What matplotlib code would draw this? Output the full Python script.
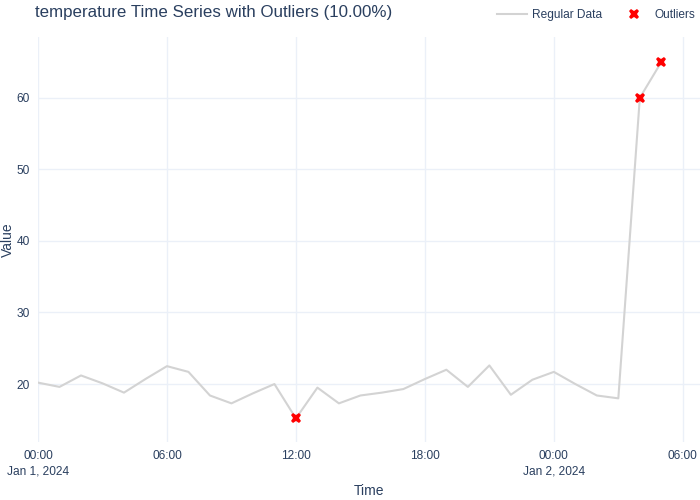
import numpy as np
import pandas as pd
import matplotlib
matplotlib.use("Agg")
from matplotlib import pyplot as plt
import matplotlib.dates as mdates

plt.rcParams['font.family'] = ['Liberation Sans', 'DejaVu Sans']

times  = pd.date_range('2024-01-01 00:00', periods=30, freq='h')
values = [20.2, 19.6, 21.2, 20.1, 18.8, 20.7, 22.5, 21.7, 18.4, 17.3,
          18.7, 20.0, 15.2, 19.5, 17.3, 18.4, 18.8, 19.3, 20.7, 22.0,
          19.6, 22.6, 18.5, 20.6, 21.7, 20.0, 18.4, 18.0, 60.0, 65.0]
outlier_idx = [12, 28, 29]
title = 'temperature Time Series with Outliers (10.00%)'

txt  = '#2a3f5f'
grid = '#ebf0f8'

fig = plt.figure(figsize=(7, 5), dpi=100)
ax  = fig.add_axes([38/700, 58/500, 662/700, 405/500])

ax.plot(times, values, color='#d3d3d3', lw=1.5, label='Regular Data', zorder=2)
ax.plot(times[outlier_idx], [values[i] for i in outlier_idx], ls='none',
        marker='X', ms=7.5, color='red', markeredgewidth=0, label='Outliers', zorder=3)

ax.set_xlim(times[0], times[0] + pd.Timedelta(hours=30.8))
ax.set_ylim(11.9, 68.5)

ax.xaxis.set_major_locator(mdates.HourLocator(byhour=[0, 6, 12, 18]))
def fmt(x, pos):
  d = mdates.num2date(x)
  s = d.strftime('%H:%M')
  if d.hour == 0:
    s += '\n' + d.strftime('%b ') + str(d.day) + d.strftime(', %Y')
  return s
ax.xaxis.set_major_formatter(plt.FuncFormatter(fmt))
ax.set_yticks([20, 30, 40, 50, 60])

for s in ax.spines.values():
  s.set_visible(False)
ax.grid(True, color=grid, lw=1)
ax.set_axisbelow(True)
ax.tick_params(length=0, colors=txt, labelsize=8.6, pad=6)
for lab in ax.get_xticklabels():
  lab.set_linespacing(1.3)

ax.set_xlabel('Time', fontsize=10, color=txt)
ax.xaxis.set_label_coords((369 - 38)/662, -(491 - 442)/405)
ax.xaxis.label.set_va('center')
ax.set_ylabel('Value', fontsize=10, color=txt)
ax.yaxis.set_label_coords(-(38 - 8)/662, (442 - 240)/405)
ax.yaxis.label.set_va('center')

fig.text(35/700, 1 - 13/500, title, fontsize=12.2, color=txt, ha='left', va='center')

leg = ax.legend(loc='center right', bbox_to_anchor=(1.0, (500 - 15)/500), bbox_transform=fig.transFigure,
                ncol=2, frameon=False, fontsize=8.6, handlelength=2.5, columnspacing=1.4,
                handletextpad=0.45, borderaxespad=0)
for t in leg.get_texts():
  t.set_color(txt)

fig.savefig('out.png', dpi=100)
